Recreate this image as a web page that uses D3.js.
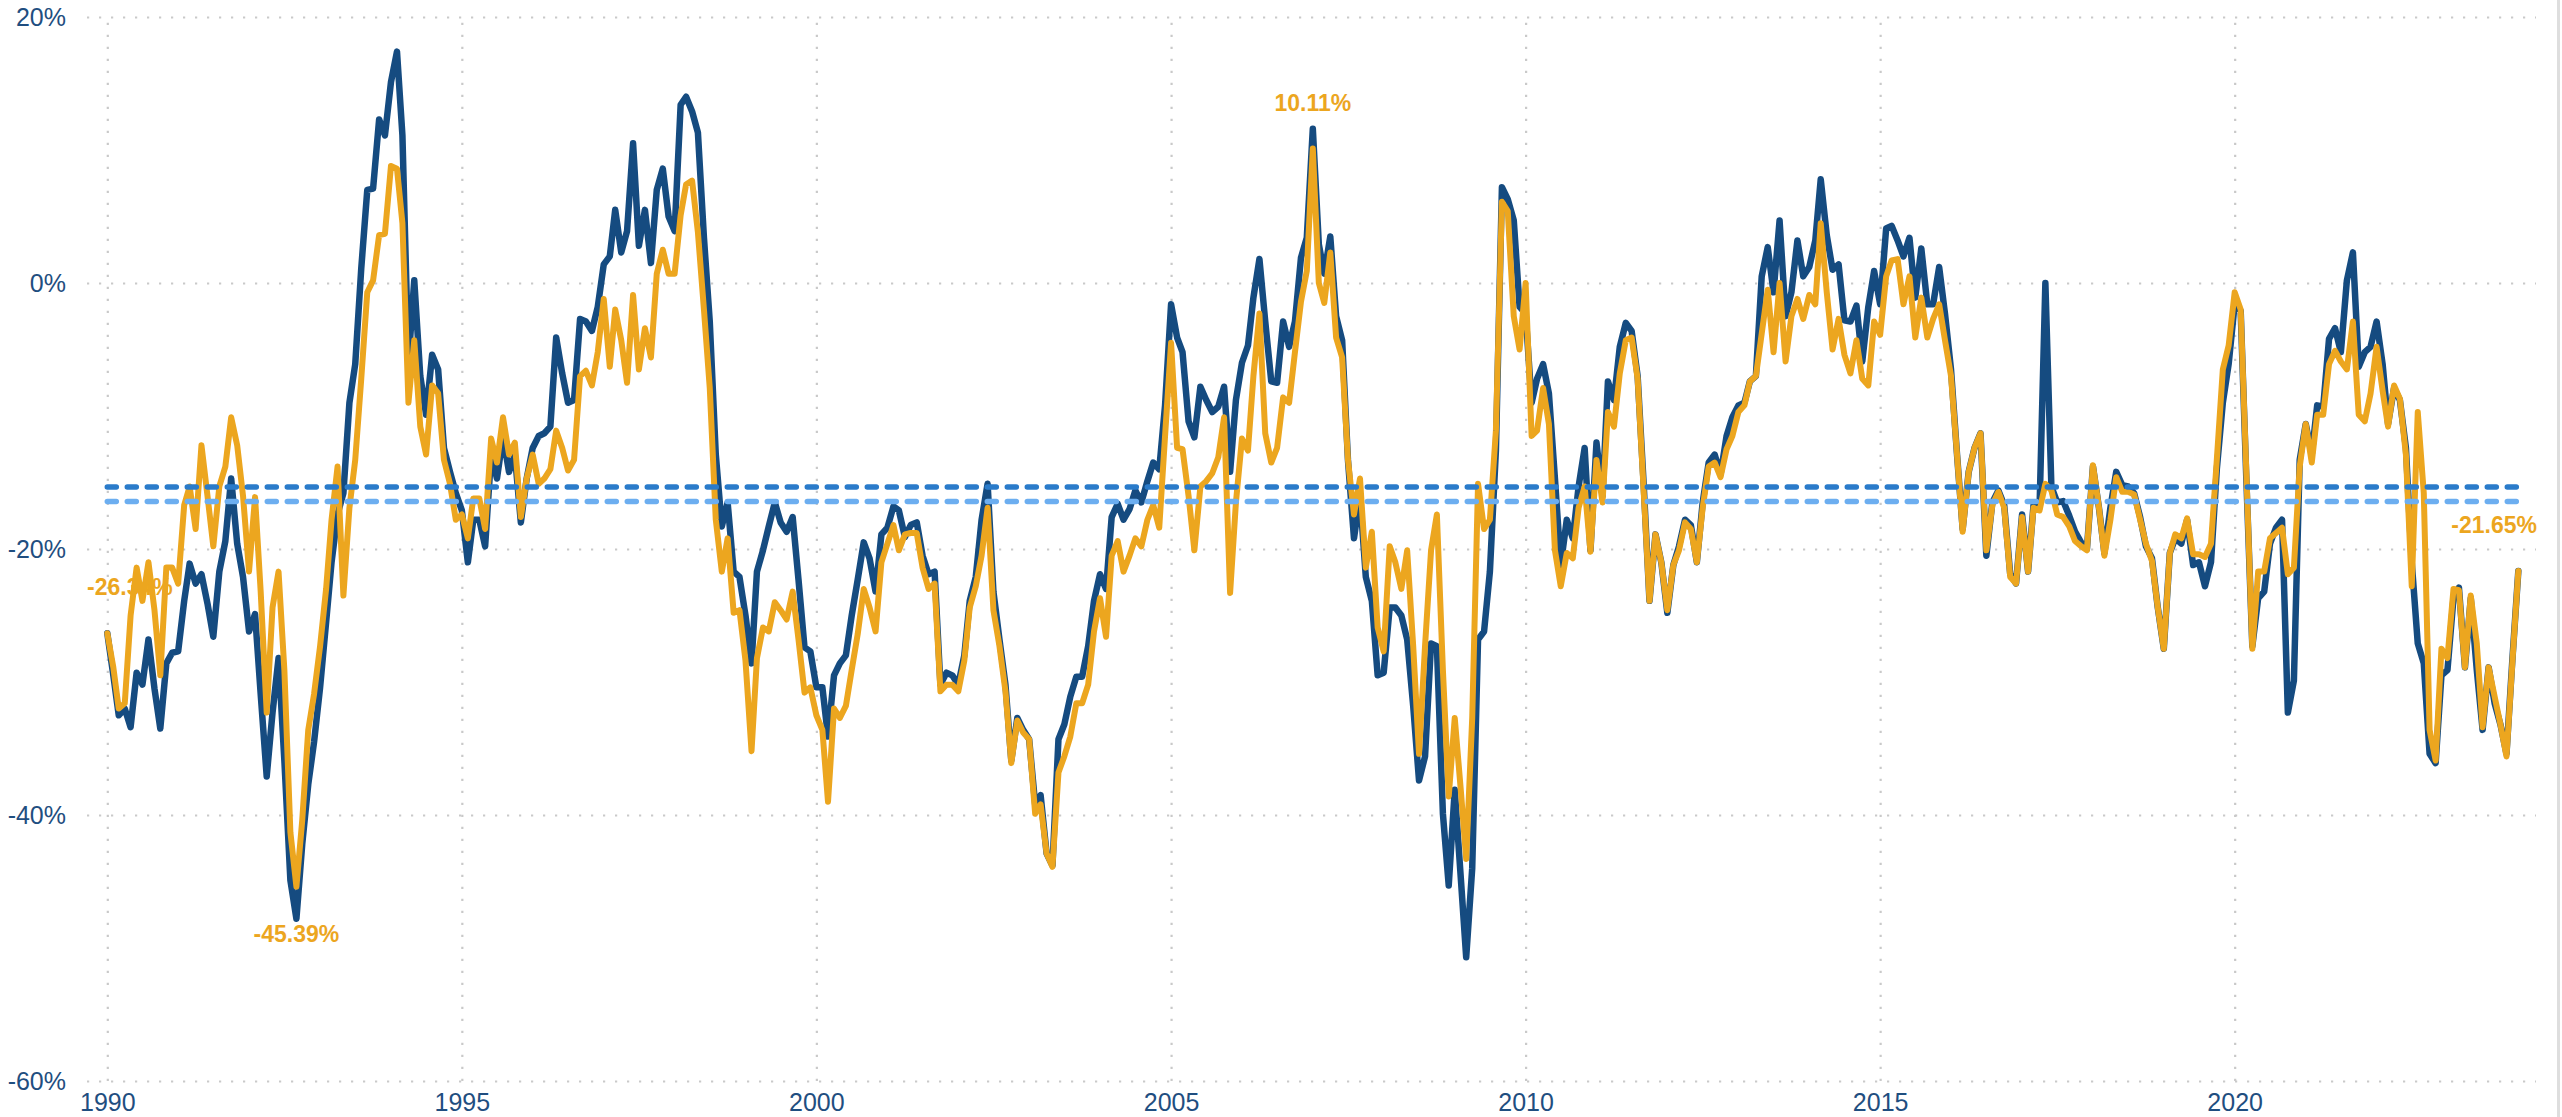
<!DOCTYPE html>
<html><head><meta charset="utf-8">
<script src="https://cdn.jsdelivr.net/npm/d3@7"></script>
<style>html,body{margin:0;padding:0;background:#fff;overflow:hidden}</style>
</head><body><svg id="chart" width="2562" height="1117"></svg>
<script>
// ---------- data ----------
const startMonth = [1990, 0];           // first observation: Jan 1990, monthly
const yTicks = [20, 0, -20, -40, -60];  // percent
const xTickYears = [1990, 1995, 2000, 2005, 2010, 2015, 2020];

// dark blue series (monthly, %)
const seriesBlue = [
 -26.34,-29.5,-32.5,-32.0,-33.4,-29.3,-30.2,-26.8,-30.5,-33.5,-28.6,-27.8,
 -27.7,-23.9,-21.1,-22.6,-21.9,-24.1,-26.6,-21.7,-19.4,-14.7,-19.6,-22.1,
 -26.2,-24.9,-30.9,-37.1,-32.3,-28.2,-35.9,-44.9,-47.8,-42.2,-37.7,-34.5,
 -30.4,-25.5,-21.0,-17.4,-15.8,-9.0,-6.1,1.1,7.0,7.1,12.3,11.1,
 15.1,17.4,11.1,-6.0,0.2,-7.0,-9.9,-5.4,-6.5,-12.4,-14.2,-15.8,
 -17.1,-21.0,-17.8,-17.8,-19.8,-12.9,-14.7,-11.5,-14.2,-12.9,-18.0,-14.7,
 -12.4,-11.5,-11.3,-10.8,-4.1,-6.8,-9.0,-8.8,-2.7,-2.9,-3.6,-1.8,
 1.4,2.0,5.5,2.3,3.9,10.5,2.8,5.5,1.5,7.0,8.6,5.0,
 3.9,13.4,14.0,12.9,11.3,3.4,-2.9,-12.9,-18.3,-16.5,-21.7,-22.1,
 -25.0,-28.6,-21.7,-20.1,-18.3,-16.5,-18.0,-18.7,-17.6,-22.3,-27.4,-27.7,
 -30.4,-30.4,-34.1,-29.5,-28.6,-28.0,-25.0,-22.3,-19.5,-20.7,-23.2,-18.9,
 -18.4,-16.8,-17.1,-19.1,-18.2,-18.0,-20.5,-21.9,-21.7,-30.2,-29.3,-29.5,
 -30.2,-28.0,-23.9,-22.1,-17.8,-15.1,-23.2,-26.8,-30.2,-35.9,-32.7,-33.6,
 -34.3,-39.2,-38.5,-42.9,-43.8,-34.3,-33.2,-31.1,-29.6,-29.6,-27.3,-23.9,
 -21.9,-23.0,-17.6,-16.6,-17.8,-17.0,-15.6,-16.5,-14.9,-13.5,-14.0,-9.2,
 -1.6,-4.1,-5.2,-10.4,-11.6,-7.8,-8.8,-9.7,-9.3,-7.8,-14.2,-8.8,
 -6.0,-4.7,-1.1,1.8,-2.9,-7.4,-7.5,-2.9,-4.8,-2.9,1.9,3.4,
 11.6,2.9,0.7,3.5,-2.5,-4.3,-13.3,-19.2,-16.0,-22.1,-23.9,-29.5,
 -29.3,-24.4,-24.4,-25.0,-26.8,-31.8,-37.4,-35.6,-27.1,-27.3,-39.9,-45.3,
 -38.1,-44.7,-50.7,-44.0,-26.8,-26.2,-21.7,-12.6,7.2,6.3,4.7,-1.8,
 -2.3,-9.0,-7.2,-6.1,-8.3,-14.7,-21.2,-17.8,-19.2,-15.3,-12.4,-20.1,
 -12.0,-16.0,-7.4,-8.8,-4.8,-3.0,-3.6,-7.0,-15.1,-23.9,-18.9,-21.0,
 -24.8,-21.2,-19.8,-17.8,-18.2,-21.0,-16.5,-13.5,-12.9,-14.4,-11.5,-10.1,
 -9.2,-9.0,-7.4,-7.0,0.5,2.7,-0.7,4.7,-2.5,-0.7,3.2,0.5,
 1.2,3.2,7.8,3.6,1.0,1.4,-2.8,-2.9,-1.7,-5.9,-1.8,0.9,
 -1.6,4.1,4.3,3.2,2.0,3.4,-1.1,2.6,-1.6,-1.6,1.2,-2.3,
 -6.5,-12.9,-18.5,-14.2,-12.4,-11.3,-20.5,-16.5,-15.6,-16.7,-21.9,-22.6,
 -17.4,-21.7,-16.7,-16.9,0.0,-15.3,-16.5,-16.4,-17.5,-18.7,-19.5,-20.0,
 -13.8,-16.9,-20.3,-16.9,-14.2,-15.2,-15.3,-15.8,-17.6,-19.8,-20.7,-24.4,
 -27.5,-20.3,-19.2,-19.6,-17.8,-21.2,-21.0,-22.8,-21.0,-14.0,-9.0,-6.1,
 -1.6,-2.1,-14.7,-27.3,-23.7,-23.2,-19.6,-18.4,-17.8,-32.3,-29.9,-13.3,
 -10.6,-12.9,-9.2,-9.3,-4.2,-3.4,-5.2,0.2,2.3,-6.3,-5.2,-4.8,
 -2.9,-6.1,-10.6,-7.9,-8.8,-12.4,-21.0,-27.1,-28.6,-35.4,-36.1,-29.5,
 -29.1,-23.7,-22.9,-28.9,-23.7,-29.1,-33.6,-28.9,-31.6,-33.2,-35.4,-28.4,
 -21.65
];

// orange series (monthly, %)
const seriesOrange = [
 -26.34,-28.9,-32.0,-31.6,-25.0,-21.4,-23.9,-21.0,-24.6,-29.5,-21.4,-21.4,
 -22.6,-16.7,-15.3,-18.5,-12.2,-16.0,-19.8,-15.3,-13.8,-10.1,-12.2,-16.0,
 -21.7,-16.1,-23.2,-32.3,-24.4,-21.7,-29.1,-41.3,-45.39,-40.4,-33.6,-30.9,
 -27.3,-23.0,-17.8,-13.8,-23.5,-16.9,-13.3,-7.2,-0.7,0.2,3.6,3.7,
 8.8,8.6,4.5,-9.0,-4.3,-10.8,-12.9,-7.7,-8.3,-13.3,-15.1,-17.8,
 -17.4,-19.2,-16.2,-16.2,-18.5,-11.7,-13.5,-10.1,-12.9,-12.0,-17.6,-14.7,
 -12.9,-15.1,-14.7,-14.0,-11.1,-12.4,-14.1,-13.3,-7.0,-6.6,-7.7,-5.2,
 -1.2,-6.3,-2.0,-4.3,-7.5,-0.9,-6.5,-3.4,-5.6,0.7,2.5,0.7,
 0.7,5.1,7.4,7.7,3.8,-2.0,-7.9,-17.8,-21.7,-19.2,-24.8,-24.6,
 -28.4,-35.2,-28.2,-25.9,-26.2,-24.0,-24.6,-25.3,-23.2,-26.8,-30.8,-30.4,
 -32.5,-33.6,-39.0,-32.0,-32.7,-31.8,-29.1,-26.4,-23.0,-24.4,-26.2,-21.0,
 -19.6,-18.2,-20.1,-18.9,-18.8,-18.8,-21.4,-23.0,-22.6,-30.7,-30.2,-30.2,
 -30.7,-28.4,-24.4,-22.8,-20.5,-16.9,-24.6,-27.3,-30.7,-36.1,-32.9,-33.8,
 -34.3,-39.9,-39.2,-42.9,-43.9,-36.8,-35.6,-34.1,-31.6,-31.6,-30.2,-26.2,
 -23.7,-26.6,-20.5,-19.4,-21.7,-20.5,-19.2,-19.8,-17.8,-16.7,-18.4,-11.5,
 -4.5,-12.4,-12.5,-16.0,-20.1,-15.3,-14.9,-14.3,-13.1,-10.1,-23.3,-16.5,
 -11.7,-12.6,-7.0,-2.3,-11.3,-13.5,-12.4,-8.6,-9.0,-5.2,-1.4,0.9,
 10.11,0.0,-1.5,2.3,-4.1,-5.6,-13.3,-17.4,-14.7,-21.4,-18.7,-25.9,
 -27.7,-19.8,-21.0,-23.0,-20.1,-27.3,-35.4,-27.3,-20.1,-17.4,-29.1,-38.6,
 -32.7,-38.1,-43.3,-32.7,-15.1,-18.5,-17.8,-11.1,6.1,5.4,-2.5,-5.0,
 0.0,-11.5,-11.1,-7.9,-10.6,-20.1,-22.8,-20.3,-20.7,-16.9,-15.3,-20.2,
 -13.3,-16.5,-9.7,-10.8,-6.8,-4.3,-4.1,-7.2,-15.6,-23.9,-18.9,-21.0,
 -24.6,-21.2,-20.1,-18.0,-18.5,-21.0,-16.9,-13.8,-13.5,-14.6,-12.5,-11.5,
 -9.7,-9.2,-7.4,-7.0,-3.8,-0.5,-5.2,0.0,-5.9,-2.5,-1.2,-2.7,
 -0.9,-1.6,4.5,-0.7,-5.0,-2.7,-5.4,-6.8,-4.3,-7.2,-7.7,-2.9,
 -3.9,0.5,1.7,1.8,-1.6,0.5,-4.1,-1.1,-4.1,-2.7,-1.6,-4.3,
 -7.0,-12.9,-18.7,-14.2,-12.4,-11.3,-20.1,-16.7,-15.7,-16.9,-22.1,-22.6,
 -17.6,-21.7,-16.9,-17.1,-15.1,-15.6,-17.4,-17.6,-18.3,-19.4,-19.8,-20.1,
 -13.7,-16.9,-20.5,-17.8,-14.6,-15.7,-15.7,-15.9,-17.8,-19.6,-20.9,-24.4,
 -27.5,-20.3,-18.9,-19.2,-17.7,-20.4,-20.4,-20.6,-19.6,-13.3,-6.5,-4.7,
 -0.7,-2.0,-14.2,-27.5,-21.7,-21.7,-19.2,-18.8,-18.4,-21.9,-21.4,-13.8,
 -10.6,-13.5,-9.9,-9.9,-6.1,-5.1,-5.9,-6.5,-2.9,-9.9,-10.4,-8.3,
 -4.8,-8.1,-10.8,-7.7,-8.7,-12.9,-22.8,-9.7,-15.8,-33.6,-35.9,-27.5,
 -28.2,-23.0,-23.1,-28.9,-23.5,-27.1,-33.4,-28.9,-31.1,-33.2,-35.6,-28.6,
 -21.65
];

// reference (average) lines, %
const avgLineValues = [-15.34, -16.42];

// labelled points of the orange series: [index, text, side]
const labelIndex = [0, 32, 204, 408];
const labelText  = ["-26.34%", "-45.39%", "10.11%", "-21.65%"];
const labelSide  = ["above", "below", "above", "above"];

// ---------- drawing ----------
const W = 2562, H = 1117;
const plot = {left: 87, right: 2536, top: 17, bottom: 1081};
const dates = seriesBlue.map((_, i) => d3.timeMonth.offset(new Date(startMonth[0], startMonth[1], 1), i));

const x = d3.scaleTime()
  .domain([new Date(1990, 0, 1), new Date(2024, 3, 1)])
  .range([107.3, 2536]);
const y = d3.scaleLinear().domain([-60, 20]).range([plot.bottom, plot.top]);

const svg = d3.select("#chart");
const axisColor = "#1f4e80";
const gridColor = "#c9c9c9";
const font = "'Liberation Sans', Arial, Helvetica, sans-serif";

// Y axis with horizontal dotted grid
const yAxis = svg.append("g").attr("transform", `translate(${plot.left},0)`)
  .call(d3.axisLeft(y).tickValues(yTicks).tickFormat(d => d + "%")
        .tickSize(-(plot.right - plot.left)).tickPadding(21));
yAxis.select(".domain").remove();
yAxis.selectAll(".tick line").attr("stroke", gridColor).attr("stroke-width", 2.2)
  .attr("stroke-dasharray", "2.2,9.8");
yAxis.selectAll(".tick text").attr("fill", axisColor).attr("font-size", 25)
  .attr("font-family", font).attr("dy", "0.35em");

// X axis with vertical dotted grid
const xAxis = svg.append("g").attr("transform", `translate(0,${plot.bottom})`)
  .call(d3.axisBottom(x).tickValues(xTickYears.map(yv => new Date(yv, 0, 1)))
        .tickFormat(d3.timeFormat("%Y"))
        .tickSize(-(plot.bottom - plot.top)).tickPadding(12));
xAxis.select(".domain").remove();
xAxis.selectAll(".tick line").attr("stroke", gridColor).attr("stroke-width", 2.2)
  .attr("stroke-dasharray", "2.2,9.8");
xAxis.selectAll(".tick text").attr("fill", axisColor).attr("font-size", 25)
  .attr("font-family", font);

// labels on orange series (drawn beneath the lines, as in the original)
const labelLayer = svg.append("g");
labelIndex.forEach((idx, k) => {
  const px = x(dates[idx]), py = y(seriesOrange[idx]);
  const t = labelLayer.append("text").text(labelText[k])
    .attr("font-family", font).attr("font-weight", "bold").attr("font-size", 23)
    .attr("fill", "#eca61f").attr("text-anchor", "middle")
    .attr("dominant-baseline", "central")
    .attr("y", labelSide[k] === "above" ? py - 46 : py + 47);
  const w = t.node().getComputedTextLength();
  let cx = px;
  if (cx - w / 2 < plot.left) cx = plot.left + w / 2;
  if (cx + w / 2 > plot.right + 1) cx = plot.right + 1 - w / 2;
  t.attr("x", cx);
});

// series lines
const line = d3.line().x((d, i) => x(dates[i])).y(d => y(d)).curve(d3.curveLinear);
svg.append("path").datum(seriesBlue).attr("d", line)
  .attr("fill", "none").attr("stroke", "#154b80").attr("stroke-width", 6.5)
  .attr("stroke-linejoin", "round").attr("stroke-linecap", "round");
svg.append("path").datum(seriesOrange).attr("d", line)
  .attr("fill", "none").attr("stroke", "#eca61f").attr("stroke-width", 6)
  .attr("stroke-linejoin", "round").attr("stroke-linecap", "round");

// average dashed lines
const avgColors = ["#2a7bca", "#6caef0"];
avgLineValues.forEach((v, k) => {
  svg.append("line")
    .attr("x1", x(dates[0])).attr("x2", x(dates[dates.length - 1]))
    .attr("y1", y(v)).attr("y2", y(v))
    .attr("stroke", avgColors[k]).attr("stroke-width", 5.5)
    .attr("stroke-linecap", "round").attr("stroke-dasharray", "9,11");
});

// right edge strip
svg.append("rect").attr("x", 2557).attr("y", 0).attr("width", 3).attr("height", H).attr("fill", "#dedede");
</script>
</body></html>
